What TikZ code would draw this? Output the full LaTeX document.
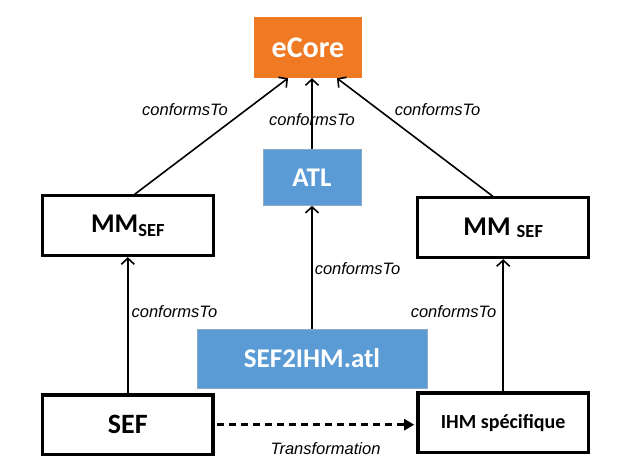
\documentclass[tikz,border=0pt]{standalone}
\usepackage{fontspec}
\setmainfont{Carlito}
\newfontfamily\lblfont{Liberation Sans}
\usetikzlibrary{arrows.meta,positioning}
\definecolor{ecoreorange}{RGB}{240,122,36}
\definecolor{atlblue}{RGB}{91,155,213}
\definecolor{atledge}{RGB}{65,113,156}
\tikzset{
metabox/.style={draw,line width=3pt,minimum width=171pt,minimum height=60pt,align=center,font=\bfseries\fontsize{27}{32}\selectfont},
modelbox/.style={draw,line width=3.5pt,minimum width=170.5pt,minimum height=59.5pt,align=center,font=\bfseries},
atlbox/.style={fill=atlblue,draw=atledge!60,line width=.6pt,text=white,align=center,font=\bfseries\fontsize{27}{32}\selectfont},
corebox/.style={fill=ecoreorange,text=white,minimum width=108pt,minimum height=61pt,font=\bfseries\fontsize{30}{36}\selectfont},
conforms/.style={-{Straight Barb[length=6pt,width=13pt]},line width=1.6pt},
transfo/.style={-{Triangle[length=10pt,width=11pt]},line width=2.5pt,dash pattern=on 7pt off 5pt},
lbl/.style={font=\lblfont\itshape\fontsize{16.5}{20}\selectfont,inner sep=0pt}
}
\begin{document}
\begin{tikzpicture}[x=1pt,y=-1pt]
\useasboundingbox (0,0) rectangle (635,476);
\node[corebox](ecore) at (308,47.5){eCore};
\node[atlbox,minimum width=98pt,minimum height=56pt,below=71pt of ecore,xshift=4pt](atl){ATL};
\node[atlbox,minimum width=230pt,minimum height=59pt,below=123pt of atl](sef2ihm){SEF2IHM.atl};
\node[metabox,below left=116pt and 39pt of ecore](mmsef){MM{\fontsize{18.5}{22}\selectfont\raisebox{-3.5pt}{SEF}}};
\node[metabox,below right=118pt and 54pt of ecore](mmsefr){MM {\fontsize{18.5}{22}\selectfont\raisebox{-2.5pt}{SEF}}};
\node[modelbox,font=\bfseries\fontsize{28}{34}\selectfont,below=136pt of mmsef](sef){SEF};
\node[modelbox,font=\bfseries\fontsize{20}{24}\selectfont,below=132pt of mmsefr](ihm){IHM spécifique};
% conformsTo links
\draw[conforms]([xshift=7pt]mmsef.north)--([xshift=-20pt]ecore.south) node[lbl,pos=.73,left=18pt]{conformsTo};
\draw[conforms]([xshift=-10.5pt]mmsefr.north)--([xshift=29pt]ecore.south) node[lbl,pos=.737,right=16pt]{conformsTo};
\draw[conforms](atl.north)--(atl.north|-ecore.south) node[lbl,pos=.41]{conformsTo};
\draw[conforms](sef2ihm.north)--(atl.south) node[lbl,pos=.49,right=2pt]{conformsTo};
\draw[conforms](sef)--(mmsef) node[lbl,pos=.6,right=3pt]{conformsTo};
\draw[conforms](ihm)--(mmsefr) node[lbl,pos=.6,left=6pt]{conformsTo};
% transformation
\draw[transfo,shorten <=2pt,shorten >=2pt](sef.east)--(ihm.west|-sef.east) node[lbl,pos=.55,below=17pt]{Transformation};
\end{tikzpicture}
\end{document}
